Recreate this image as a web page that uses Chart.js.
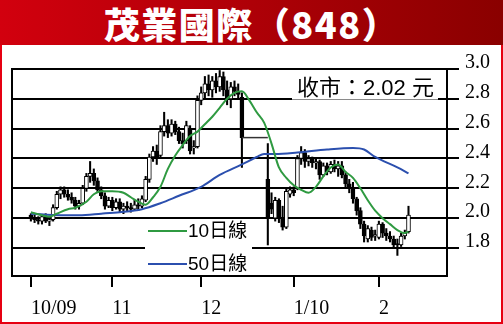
<!DOCTYPE html>
<html>
<head>
<meta charset="utf-8">
<script src="https://cdn.jsdelivr.net/npm/chart.js@4"></script>
<style>
  html,body{margin:0;padding:0;background:#fff;}
  #wrap{position:relative;width:503px;height:324px;overflow:hidden;background:#e60012;}
  #panel{position:absolute;left:2px;top:45px;width:499px;height:277px;background:#fff;}
  #hdr{position:absolute;left:0;top:0;width:503px;height:45px;background:linear-gradient(90deg,#d2000e,#8a0000);
       color:#fff;font-family:"Noto Sans CJK TC","Noto Sans CJK SC",sans-serif;font-weight:900;font-size:36px;
       text-align:center;line-height:47px;letter-spacing:1.5px;white-space:nowrap;}
  #c{position:absolute;left:0;top:0;}
  #legend{position:absolute;left:145px;top:221px;width:107px;height:53px;background:#fff;}
  #legend .ln{position:absolute;left:3px;width:39px;height:2px;}
  #legend .tx{position:absolute;left:43px;font-family:"Liberation Sans","Noto Sans CJK TC",sans-serif;font-size:19px;line-height:20px;color:#000;white-space:nowrap;}
  #close{position:absolute;left:292px;top:70px;width:146px;height:30px;box-sizing:border-box;border-bottom:1px solid #8a8a8a;background:#fff;}
  #close span{position:absolute;left:5px;top:5px;font-family:"Liberation Sans","Noto Sans CJK TC",sans-serif;font-size:22px;line-height:26px;color:#000;white-space:nowrap;}
</style>
</head>
<body>
<div id="wrap">
  <div id="panel"></div>
  <div id="hdr">茂業國際（848）</div>
  <canvas id="c" width="503" height="324"></canvas>
  <div id="legend">
    <div class="ln" id="l1" style="top:9px;"></div><div class="tx" id="t1" style="top:0px;"></div>
    <div class="ln" id="l2" style="top:42px;"></div><div class="tx" id="t2" style="top:33px;"></div>
  </div>
  <div id="close"><span id="closeTxt"></span></div>
</div>
<script>
// ---- data ----
const tickIdx    = [0, 22, 46, 71, 94];
const tickLabels = ['10/09', '11', '12', '1/10', '2'];
const yTicks     = [1.8, 2.0, 2.2, 2.4, 2.6, 2.8, 3.0];

const opens = [2.02,2.00,1.99,1.98,2.01,1.98,1.99,2.07,2.16,2.19,
  2.16,2.14,2.12,2.08,2.10,2.20,2.28,2.30,2.25,2.19,
  2.15,2.08,2.12,2.07,2.11,2.06,2.08,2.07,2.06,2.09,
  2.08,2.12,2.26,2.41,2.45,2.42,2.58,2.62,2.57,2.63,
  2.58,2.52,2.52,2.60,2.47,2.48,2.79,2.84,2.90,2.86,
  2.92,2.88,2.95,2.86,2.80,2.88,2.85,2.81,null,null,
  null,null,null,null,2.26,2.10,2.00,2.12,2.00,1.94,
  2.16,2.19,2.20,2.40,2.44,2.38,2.40,2.37,2.38,2.29,
  2.35,2.31,2.36,2.33,2.35,2.29,2.23,2.20,2.13,2.05,
  1.96,1.86,1.92,1.88,1.87,1.96,1.90,1.88,1.86,1.83,
  1.82,1.88,1.91];
const highs = [2.03,2.02,2.01,2.02,2.03,2.00,2.09,2.18,2.21,2.21,
  2.19,2.17,2.14,2.12,2.22,2.30,2.38,2.33,2.27,2.21,
  2.17,2.14,2.14,2.13,2.13,2.10,2.11,2.10,2.12,2.13,
  2.15,2.28,2.43,2.48,2.49,2.62,2.71,2.66,2.66,2.65,
  2.61,2.57,2.65,2.62,2.52,2.82,2.88,2.95,2.96,2.95,
  2.97,2.99,2.98,2.92,2.91,2.92,2.90,2.84,null,null,
  null,null,null,null,2.50,2.17,2.14,2.13,2.08,2.20,
  2.21,2.21,2.42,2.48,2.46,2.42,2.41,2.40,2.39,2.37,
  2.37,2.38,2.39,2.38,2.38,2.31,2.26,2.24,2.14,2.07,
  1.98,1.95,1.94,1.92,1.98,1.97,1.93,1.91,1.88,1.86,
  1.90,1.92,2.08];
const lows = [1.98,1.97,1.96,1.96,1.97,1.95,1.98,2.06,2.13,2.14,
  2.12,2.10,2.06,2.06,2.09,2.18,2.24,2.22,2.17,2.13,
  2.06,2.07,2.05,2.06,2.04,2.03,2.05,2.04,2.05,2.05,
  2.07,2.11,2.24,2.38,2.36,2.40,2.55,2.54,2.55,2.56,
  2.50,2.47,2.50,2.43,2.43,2.47,2.76,2.80,2.82,2.81,
  2.84,2.85,2.82,2.76,2.74,2.82,2.80,2.34,null,null,
  null,null,null,null,1.82,2.03,1.98,1.97,1.92,1.93,
  2.14,2.15,2.19,2.36,2.34,2.35,2.34,2.33,2.26,2.28,
  2.29,2.30,2.31,2.28,2.27,2.20,2.17,2.10,2.02,1.93,
  1.84,1.84,1.85,1.85,1.86,1.87,1.85,1.84,1.80,1.75,
  1.81,1.86,1.90];
const closes = [2.00,1.99,1.98,2.01,1.98,1.99,2.07,2.16,2.19,2.16,
  2.14,2.12,2.08,2.10,2.20,2.28,2.30,2.25,2.19,2.15,
  2.08,2.12,2.07,2.11,2.06,2.08,2.07,2.06,2.09,2.08,
  2.13,2.26,2.41,2.45,2.40,2.58,2.62,2.57,2.63,2.58,
  2.52,2.50,2.62,2.45,2.48,2.79,2.84,2.90,2.86,2.92,
  2.88,2.95,2.86,2.80,2.88,2.85,2.83,2.54,null,null,
  null,null,null,null,2.00,2.06,2.12,2.00,1.94,2.18,
  2.19,2.17,2.40,2.44,2.38,2.40,2.37,2.38,2.29,2.35,
  2.31,2.36,2.33,2.35,2.29,2.23,2.20,2.13,2.05,1.96,
  1.88,1.93,1.87,1.89,1.96,1.90,1.88,1.86,1.82,1.82,
  1.88,1.90,2.02];

// trading halt (flat price line)
const haltIdx   = [57, 64];
const haltPrice = [2.54, 2.54];

// moving averages (candle index, value)
const ma10Idx = [0,3,5,7,10,12,15,17,19,22,25,27,29,31,33,35,37,39,41,43,45,47,49,51,53,55,57,59,61,63,65,67,69,71,73,75,77,79,81,83,85,87,89,91,93,95,97,99,101,102];
const ma10Val = [2.04,2.02,2.01,2.03,2.06,2.07,2.11,2.16,2.18,2.18,2.17,2.14,2.11,2.09,2.14,2.21,2.33,2.42,2.49,2.55,2.58,2.63,2.68,2.74,2.80,2.84,2.85,2.79,2.71,2.64,2.50,2.34,2.27,2.22,2.19,2.17,2.21,2.28,2.34,2.36,2.31,2.27,2.20,2.12,2.05,2.00,1.96,1.92,1.90,1.91];
const ma50Idx = [0,8,13,19,24,30,35,40,46,51,57,61,63,66,72,80,87,90,93,99,102];
const ma50Val = [2.03,2.02,2.02,2.03,2.04,2.06,2.10,2.15,2.21,2.29,2.36,2.41,2.43,2.43,2.44,2.46,2.47,2.46,2.41,2.34,2.30];

const seriesNames = ['10日線', '50日線'];
const closeLabel = '收市：2.02 元';

// ---- build datasets ----
const wickData = [], bodyData = [], bodyFill = [];
for (let i = 0; i < opens.length; i++) {
  if (opens[i] == null) continue;
  wickData.push({x: i, y: [lows[i], highs[i]]});
  bodyData.push({x: i, y: [opens[i], closes[i]]});
  bodyFill.push(closes[i] > opens[i] ? '#ffffff' : '#000000');
}
const ma10 = ma10Idx.map((x, k) => ({x, y: ma10Val[k]}));
const ma50 = ma50Idx.map((x, k) => ({x, y: ma50Val[k]}));
const halt = haltIdx.map((x, k) => ({x, y: haltPrice[k]}));

const GREEN = '#2f9a41', BLUE = '#2b4fae';
document.getElementById('l1').style.background = GREEN;
document.getElementById('l2').style.background = BLUE;
document.getElementById('t1').textContent = seriesNames[0];
document.getElementById('t2').textContent = seriesNames[1];
document.getElementById('closeTxt').textContent = closeLabel;

const boxPlugin = {
  id: 'box',
  afterDraw(chart) {
    const {ctx, chartArea: a} = chart;
    ctx.save();
    ctx.strokeStyle = '#000';
    ctx.lineWidth = 2;
    ctx.beginPath();
    ctx.moveTo(a.left, a.bottom);
    ctx.lineTo(a.left, a.top);
    ctx.lineTo(a.right, a.top);
    ctx.stroke();
    ctx.restore();
  }
};

new Chart(document.getElementById('c'), {
  type: 'bar',
  data: {
    datasets: [
      {type: 'line', label: seriesNames[0], data: ma10, borderColor: GREEN, borderWidth: 2, pointRadius: 0, cubicInterpolationMode: 'monotone', order: 0},
      {type: 'line', label: seriesNames[1], data: ma50, borderColor: BLUE, borderWidth: 2, pointRadius: 0, cubicInterpolationMode: 'monotone', order: 1},
      {type: 'line', label: 'halt', data: halt, borderColor: '#333', borderWidth: 1.5, pointRadius: 0, order: 2},
      {type: 'bar', label: 'body', data: bodyData, backgroundColor: bodyFill, borderColor: '#000', borderWidth: 1, borderSkipped: false, barThickness: 4, grouped: false, order: 3},
      {type: 'bar', label: 'wick', data: wickData, backgroundColor: '#000', borderWidth: 0, barThickness: 1.4, grouped: false, order: 4}
    ]
  },
  options: {
    responsive: false,
    animation: false,
    devicePixelRatio: 1,
    layout: {padding: {left: 12, top: 69, right: 2, bottom: 8}},
    plugins: {legend: {display: false}, tooltip: {enabled: false}, title: {display: false}},
    scales: {
      x: {
        type: 'linear', min: -5.1, max: 112.4, offset: false,
        grid: {offset: false, drawOnChartArea: false, drawTicks: true, tickLength: 11, color: '#000', lineWidth: 2},
        border: {display: true, color: '#000', width: 2},
        ticks: {font: {family: 'Liberation Serif', size: 20}, color: '#000', padding: 10, align: 'start', maxRotation: 0, autoSkip: false,
                callback: (v, i) => tickLabels[i]},
        afterBuildTicks: s => { s.ticks = tickIdx.map(v => ({value: v})); },
        afterFit: s => { s.height = 40; }
      },
      y: {
        type: 'linear', position: 'right', min: 1.612, max: 3.0,
        grid: {color: '#000', lineWidth: 2, tickLength: 12, drawTicks: true},
        border: {display: true, color: '#000', width: 2},
        ticks: {font: {family: 'Liberation Serif', size: 20}, color: '#000', padding: 6, labelOffset: -6,
                callback: v => Number(v).toFixed(1)},
        afterBuildTicks: s => { s.ticks = yTicks.map(v => ({value: v})); },
        afterFit: s => { s.width = 54; }
      }
    }
  },
  plugins: [boxPlugin]
});
</script>
</body>
</html>
